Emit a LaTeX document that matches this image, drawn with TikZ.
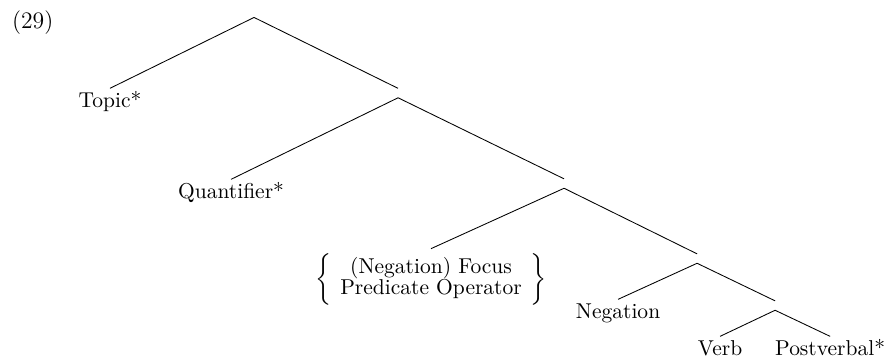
\documentclass[tikz,border=0pt]{standalone}
\usepackage{tikz}
\usetikzlibrary{positioning, calc}

\begin{document}
\begin{tikzpicture}[auto, thin,
                    branch/.style={inner sep=0pt, minimum width=0pt, minimum height=0.14cm},
                    leaf/.style={anchor=base, inner sep=1.5pt, text height=7pt, text depth=2pt},
                    choice/.style={inner sep=2pt}]
    \useasboundingbox (0,0) rectangle (14.53,5.885);

    % Example Number
    \node[anchor=base, font=\fontsize{11}{13}\selectfont] (exnum) at (0.535,5.427) {(29)};

    % Node Placements
    \node[branch] (root) at (4.152,5.677) {};
    \node[branch] (N1)   at (6.506,4.364) {};
    \node[branch] (N2)   at (9.219,2.885) {};
    \node[branch] (N3)   at (11.393,1.659) {};
    \node[branch] (N4)   at (12.668,0.891) {};

    \node[leaf] (topic)  at (1.798,4.136) {Topic*};
    \node[leaf] (quant)  at (3.776,2.648) {Quantifier*};
    \node[choice] (focus) at (7.045,1.322)
        {$\left\{\tabcolsep=4pt\renewcommand{\arraystretch}{0.8}%
          \begin{tabular}{c}(Negation) Focus\\Predicate Operator\end{tabular}\right\}$};
    \node[leaf] (neg)    at (10.102,0.687) {Negation};
    \node[leaf] (verb)   at (11.769,0.082) {Verb};
    \node[leaf] (postv)  at (13.567,0.082) {Postverbal*};

    % Tree Branches
    \path
    (root.south) edge (topic.north)
                 edge (N1.north)
    (N1.south)   edge (quant.north)
                 edge (N2.north)
    (N2.south)   edge (focus.north)
                 edge (N3.north)
    (N3.south)   edge (neg.north)
                 edge (N4.north)
    (N4.south)   edge (verb.north)
                 edge (postv.north);
\end{tikzpicture}
\end{document}
